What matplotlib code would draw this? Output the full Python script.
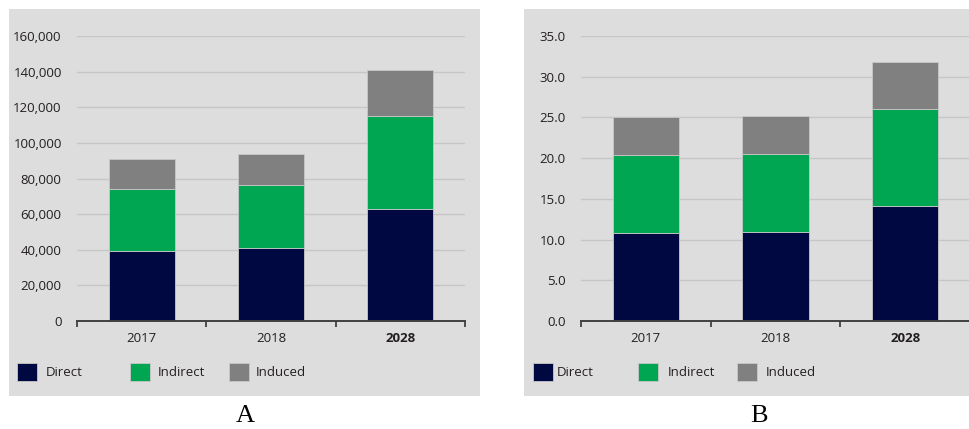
import matplotlib.pyplot as plt
from matplotlib.patches import Rectangle
import numpy as np

plt.rcParams['font.family'] = ['Open Sans', 'DejaVu Sans']

# values
years = ['2017', '2018', '2028']
series = ['Direct', 'Indirect', 'Induced']
colors = ['#000842', '#00a651', '#808080']

jobs_direct = [39300, 40800, 62700]
jobs_indirect = [34600, 35500, 52600]
jobs_induced = [17000, 17600, 25600]

gdp_direct = [10.85, 10.95, 14.1]
gdp_indirect = [9.5, 9.6, 11.9]
gdp_induced = [4.7, 4.65, 5.8]

W, H = 969, 429
fig = plt.figure(figsize=(W / 100, H / 100), dpi=100)
fig.patch.set_facecolor('white')

bg = '#dddddd'
txt = '#231f20'


def px(x0, y0, x1, y1):
    # pixel box (top-left origin) -> figure fraction rect
    return [x0 / W, (H - y1) / H, (x1 - x0) / W, (y1 - y0) / H]


# grey panel backgrounds
for x0, x1 in [(9, 480), (524, 969)]:
    fig.patches.append(Rectangle((x0 / W, (H - 396) / H), (x1 - x0) / W, (396 - 9) / H,
                                 transform=fig.transFigure, facecolor=bg, edgecolor='none', zorder=-5))


def panel(rect, stacks, ymax, step, fmt, legend_pos, label, label_x):
    ax = fig.add_axes(rect)
    ax.set_facecolor('none')
    x = np.arange(len(years))
    bottom = np.zeros(len(years))
    bars = []
    for vals, col, name in zip(stacks, colors, series):
        b = ax.bar(x, vals, width=0.51, bottom=bottom, color=col, edgecolor='#c8c8c8',
                   linewidth=0.6, label=name, zorder=3)
        bars.append(b)
        bottom += np.array(vals)
    ax.set_xlim(-0.5, 2.5)
    ax.set_ylim(0, ymax)
    ax.set_yticks(np.arange(0, ymax + step / 2, step))
    ax.set_yticklabels([fmt(v) for v in np.arange(0, ymax + step / 2, step)])
    ax.yaxis.grid(True, color='#c6c6c6', linewidth=1.0, zorder=0)
    ax.set_axisbelow(True)
    for s in ['top', 'right', 'left']:
        ax.spines[s].set_visible(False)
    ax.spines['bottom'].set_color('#404040')
    ax.spines['bottom'].set_linewidth(1.4)
    ax.spines['bottom'].set_zorder(4)
    ax.tick_params(axis='y', length=0, pad=11, labelsize=9.5, labelcolor=txt)
    ax.set_xticks(x)
    ax.set_xticklabels(years)
    ax.tick_params(axis='x', length=0, pad=8, labelsize=9.5, labelcolor=txt)
    ax.get_xticklabels()[2].set_fontweight('bold')
    ax.set_xticks([-0.5, 0.5, 1.5, 2.5], minor=True)
    ax.tick_params(axis='x', which='minor', length=4, width=1.3, color='#404040', direction='out')

    for b, (lx, pad) in zip(bars, legend_pos):
        lg = fig.legend(handles=[b], loc='center left',
                        bbox_to_anchor=(lx / W, (H - 372) / H), frameon=False,
                        fontsize=9.5, handlelength=1.5, handleheight=1.72,
                        handletextpad=pad, borderpad=0, borderaxespad=0)
        for t in lg.get_texts():
            t.set_color(txt)
    fig.text(label_x / W, (H - 422) / H, label, family='Liberation Serif', fontsize=19,
             ha='center', va='baseline', color='black')
    return ax


panel(px(77, 36, 465, 321), [jobs_direct, jobs_indirect, jobs_induced], 160000, 20000,
      lambda v: f'{int(v):,}', [(17, 0.65), (130, 0.6), (229, 0.55)], 'A', 245.5)
panel(px(581, 36, 970, 321), [gdp_direct, gdp_indirect, gdp_induced], 35, 5,
      lambda v: f'{v:.1f}', [(533, 0.3), (638, 0.75), (737, 0.7)], 'B', 759)

fig.savefig('out.png', dpi=100)
